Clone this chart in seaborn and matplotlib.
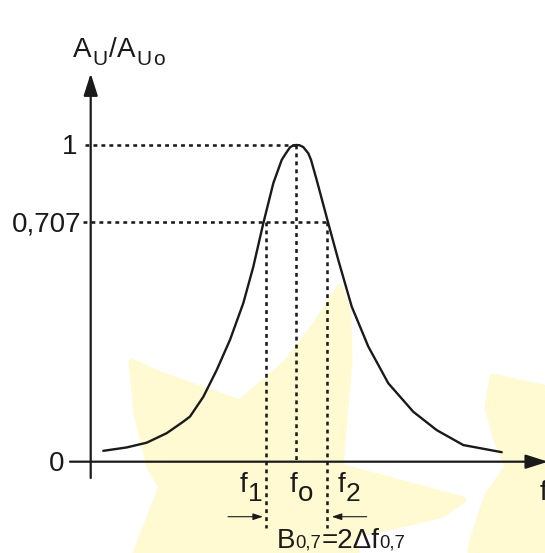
import numpy as np
import matplotlib
matplotlib.use("Agg")
import matplotlib.pyplot as plt
import seaborn as sns
import pandas as pd
from matplotlib.patches import Polygon

# resonance curve (f in arbitrary units, f0 = 5)
freq = [0.306, 0.875, 1.362, 1.848, 2.252, 2.415, 2.738, 3.064, 3.388, 3.711, 3.954, 4.197, 4.441, 4.645, 4.750,
        4.847, 4.920, 5.000, 5.079, 5.170, 5.236, 5.292, 5.358, 5.496, 5.778, 6.021, 6.347, 6.751, 7.237, 7.845,
        8.414, 9.061, 9.995]
gain = [0.032, 0.042, 0.056, 0.084, 0.118, 0.133, 0.191, 0.270, 0.359, 0.467, 0.574, 0.702, 0.854, 0.943, 0.969,
        0.991, 0.998, 1.000, 0.999, 0.992, 0.979, 0.968, 0.943, 0.866, 0.702, 0.594, 0.457, 0.339, 0.231, 0.147,
        0.093, 0.049, 0.028]

f0 = 5.0
f1 = 4.263
f2 = 5.739
level_top = 1.0
level_half = 0.707
tick_vals = [0, 0.707, 1]
tick_labels = ["0", "0,707", "1"]

W, H = 545, 553
INK = "#1a1a1a"
STAR = "#fffad2"

sns.set_theme(style="white")
plt.rcParams["font.family"] = ["Liberation Sans", "DejaVu Sans"]

fig = plt.figure(figsize=(W / 100, H / 100), dpi=100)
fig.patch.set_facecolor("white")

# faint watermark stars (outline, pixel coords)
bg = fig.add_axes([0, 0, 1, 1], zorder=0)
bg.set_xlim(0, W)
bg.set_ylim(H, 0)
bg.axis("off")
star_left = [(340, 288), (348, 313), (349, 363), (343, 430), (340, 467), (463, 500), (440, 515), (353, 535),
             (372, 640), (260, 600), (110, 620), (162, 487), (150, 467), (137, 413), (132, 362), (160, 375),
             (240, 403), (287, 363), (317, 323)]
star_right = [(493, 377), (560, 392), (560, 560), (470, 560), (473, 540), (487, 497), (508, 467), (497, 440),
              (488, 407)]
for pts in (star_left, star_right):
    bg.add_patch(Polygon(pts, closed=True, fc=STAR, ec=STAR, lw=5, joinstyle="round"))

ax = fig.add_axes([0, 0, 1, 1], zorder=1)
ax.patch.set_alpha(0)

# the y axis of the sketch is not linear: 0.707 sits at ~76 % of the height
kv = [-1, 0, 0.707, 1, 2]
kd = [-1, 0, 0.758, 1, 2]
ax.set_yscale("function", functions=(lambda v: np.interp(v, kv, kd),
                                     lambda d: np.interp(d, kd, kv)))
ax.set_xlim(-2.206, 11.048)
ax.set_ylim(-0.2883, 1.4578)
ax.axis("off")

df = pd.DataFrame({"f": freq, "A": gain})
sns.lineplot(data=df, x="f", y="A", color=INK, lw=1.7, sort=False, ax=ax, zorder=3)

# axes with arrow heads
head = dict(arrowstyle="-|>,head_length=1.35,head_width=0.43", mutation_scale=10,
            color=INK, lw=1.6, shrinkA=0, shrinkB=0)
ax.annotate("", xy=(0, 1.226), xytext=(0, -0.0515), arrowprops=head)
ax.annotate("", xy=(11.12, 0), xytext=(-0.503, 0), arrowprops=head, annotation_clip=False)

dot = dict(color=INK, lw=1.85, ls=(0, (1.5, 1.6)), zorder=2)
ax.plot([-0.139, f0], [level_top, level_top], **dot)
ax.plot([-0.187, f2], [level_half, level_half], **dot)
ax.plot([f0, f0], [level_top, 0], **dot)
ax.plot([f1, f1], [level_half, -0.2094], **dot)
ax.plot([f2, f2], [level_half, -0.2094], **dot)

# small arrows pointing at the band edges
small = dict(arrowstyle="-|>,head_length=0.6,head_width=0.2", mutation_scale=10,
             color=INK, lw=0.8, shrinkA=0, shrinkB=0)
ax.annotate("", xy=(f1 - 0.073, -0.1737), xytext=(f1 - 0.924, -0.1737), arrowprops=small)
ax.annotate("", xy=(f2 + 0.122, -0.1737), xytext=(f2 + 0.973, -0.1737), arrowprops=small)

FS = 20
tick_dx = {"0": -26.7, "0,707": -9.0, "1": -13.7}
for v, lab in zip(tick_vals, tick_labels):
    ax.annotate(lab, xy=(0, v), xytext=(tick_dx[lab], -9.5), textcoords="offset pixels",
                fontsize=FS, color=INK, ha="right", va="baseline")

fig.canvas.draw()
rend = fig.canvas.get_renderer()


def put(pieces, x, y, gap=0.0):
    # pieces: (text, size, drop in px); placed one after another on a baseline
    for s, size, drop in pieces:
        t = fig.text(x / W, 1 - (y + drop) / H, s, fontsize=size, color=INK, ha="left", va="baseline")
        x = t.get_window_extent(rend).x1 + gap


SUB = FS * 0.75
put([("A", FS, 0), ("U", SUB, 8.3), ("/", FS, 0), ("A", FS, 0), ("U", SUB, 8.3), ("o", SUB, 8.3)],
    73, 56.7, gap=1.0)
put([("f", FS, 0), ("1", FS * 0.95, 9)], 240, 491.7)
put([("f", FS, 0), ("o", FS, 9)], 290, 491.7)
put([("f", FS, 0), ("2", FS * 0.95, 9)], 338, 491.7)
put([("f", FS, 0)], 540, 500)
put([("B", FS, 0), ("0,7", 13.3, 0), ("=2\u0394f", FS, 0), ("0,7", 13.3, 0)], 277, 547.5)

fig.savefig("out.png", dpi=100, facecolor="white")
